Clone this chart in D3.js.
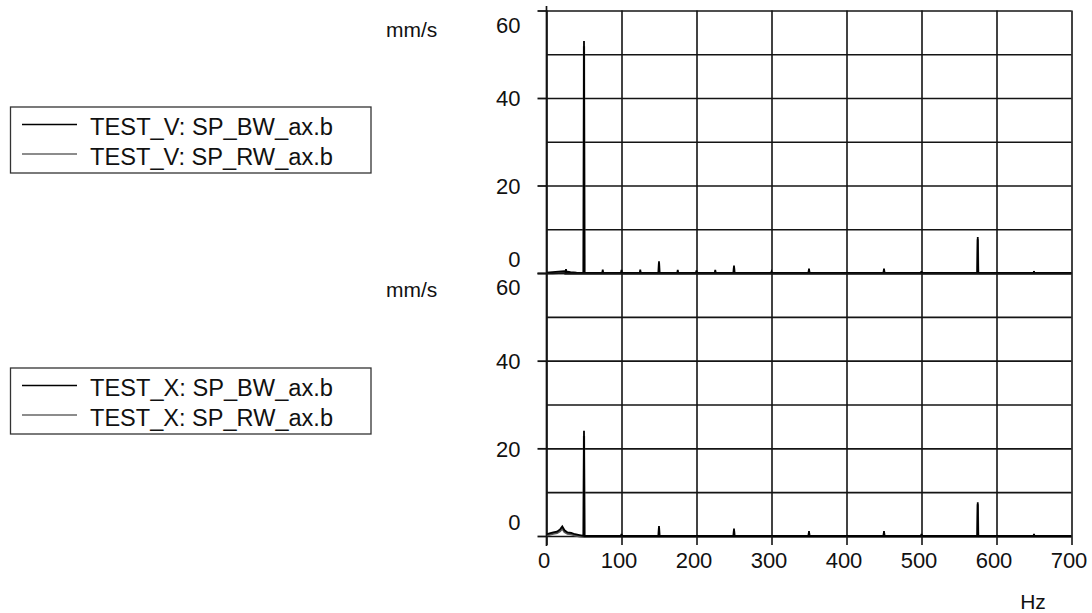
<!DOCTYPE html>
<html>
<head>
<meta charset="utf-8">
<title>Spectrum</title>
<script src="https://cdn.jsdelivr.net/npm/d3@7"></script>
<style>
  body { margin: 0; background: #fff; }
  svg text { font-family: "Liberation Sans", Arial, sans-serif; fill: #111; }
</style>
</head>
<body>
<div id="chart"></div>
<script>
// ---- data ----
var hzTicks = [0, 100, 200, 300, 400, 500, 600, 700];
var ampTicks = [0, 20, 40, 60];
var unitY = "mm/s";
var unitX = "Hz";

// TEST_V panel: low band (continuous) + spike frequencies (Hz) and amplitudes (mm/s)
var vLowHz = [0, 8, 16, 24, 32, 40];
var vLowBW = [0.1, 0.2, 0.3, 0.4, 0.2, 0.1];
var vLowRW = [0.1, 0.1, 0.2, 0.3, 0.1, 0.0];
var vHz    = [26, 50, 75, 100, 125, 150, 175, 200, 225, 250, 300, 350, 450, 500, 575, 650];
var vBW    = [0.9, 53, 0.8, 0.7, 0.8, 2.7, 0.7, 0.6, 0.7, 1.7, 0.3, 1.0, 1.0, 0.4, 8.2, 0.4];
var vRW    = [0.6, 52, 0.5, 0.5, 0.5, 2.4, 0.4, 0.4, 0.4, 1.5, 0.2, 0.8, 0.8, 0.3, 7.9, 0.2];

// TEST_X panel
var xLowHz = [0, 4, 9, 14, 18, 21, 24, 28, 33, 38, 44];
var xLowBW = [0.4, 0.6, 0.8, 1.0, 1.5, 2.2, 1.3, 0.8, 0.7, 0.4, 0.2];
var xLowRW = [0.3, 0.5, 0.7, 0.9, 1.3, 1.9, 1.1, 0.7, 0.6, 0.3, 0.1];
var xHz    = [50, 100, 150, 250, 350, 450, 500, 575, 650];
var xBW    = [24, 0.5, 2.3, 1.7, 1.1, 1.1, 0.5, 7.7, 0.5];
var xRW    = [23, 0.4, 2.0, 1.5, 0.9, 0.9, 0.4, 7.4, 0.4];

var legendV = ["TEST_V: SP_BW_ax.b", "TEST_V: SP_RW_ax.b"];
var legendX = ["TEST_X: SP_BW_ax.b", "TEST_X: SP_RW_ax.b"];

// ---- layout ----
var W = 1092, H = 613;
var svg = d3.select("#chart").append("svg").attr("width", W).attr("height", H);

var x = d3.scaleLinear().domain([0, 700]).range([546.5, 1071.5]);

var panels = [
  {top: 10.5, bottom: 273, lowHz: vLowHz, lowBW: vLowBW, lowRW: vLowRW,
   hz: vHz, bw: vBW, rw: vRW, legend: legendV, box: [107, 173], unitY: 37},
  {top: 273, bottom: 536, lowHz: xLowHz, lowBW: xLowBW, lowRW: xLowRW,
   hz: xHz, bw: xBW, rw: xRW, legend: legendX, box: [368, 434], unitY: 297}
];

function spectrum(lowHz, low, hz, amp) {
  var pts = lowHz.map(function(f, i) { return [f, low[i]]; });
  hz.forEach(function(f, i) {
    pts.push([f - 0.6, 0], [f, amp[i]], [f + 0.6, 0]);
  });
  pts.push([700, 0]);
  return pts;
}

var ink = "#141414";

panels.forEach(function(p, pi) {
  var y = d3.scaleLinear().domain([0, 60]).range([p.bottom, p.top]);
  var g = svg.append("g");

  // horizontal grid every 10
  g.append("g")
    .attr("transform", "translate(" + x(0) + ",0)")
    .call(d3.axisLeft(y).tickValues(d3.range(0, 61, 10)).tickSize(-(x(700) - x(0))).tickFormat(""))
    .call(function(s) {
      s.select(".domain").remove();
      s.selectAll("line").attr("stroke", ink).attr("stroke-width", 1.6);
    });

  // vertical grid every 100
  g.append("g")
    .attr("transform", "translate(0," + p.bottom + ")")
    .call(d3.axisBottom(x).tickValues(hzTicks).tickSize(-(p.bottom - p.top)).tickFormat(""))
    .call(function(s) {
      s.select(".domain").remove();
      s.selectAll("line").attr("stroke", ink).attr("stroke-width", 1.6);
    });

  // left axis ticks and labels
  g.append("g")
    .attr("transform", "translate(" + x(0) + ",0)")
    .call(d3.axisLeft(y).tickValues(ampTicks).tickSize(9).tickPadding(17))
    .call(function(s) {
      s.select(".domain").remove();
      s.selectAll("line").attr("stroke", ink).attr("stroke-width", 1.8);
      s.selectAll("text").attr("font-size", 22).attr("fill", ink)
        .attr("font-family", "Liberation Sans, Arial, sans-serif")
        .attr("dy", function(d) {
          if (d === 60) return "0.98em";
          if (d === 0) return "-0.3em";
          return "0.36em";
        });
    });

  // unit label
  g.append("text").attr("x", 386).attr("y", p.unitY)
    .attr("font-size", 21).text(unitY);

  // series: RW (grey) under BW (black)
  var line = d3.line().x(function(d) { return x(d[0]); }).y(function(d) { return y(d[1]); });
  g.append("path").datum(spectrum(p.lowHz, p.lowRW, p.hz, p.rw))
    .attr("fill", "none").attr("stroke", "#555").attr("stroke-width", 2.2)
    .attr("transform", "translate(0,0.8)").attr("d", line);
  g.append("path").datum(spectrum(p.lowHz, p.lowBW, p.hz, p.bw))
    .attr("fill", "none").attr("stroke", "#000").attr("stroke-width", 1.8).attr("d", line);

  // legend
  var lg = svg.append("g");
  lg.append("rect").attr("x", 10.5).attr("y", p.box[0])
    .attr("width", 360.5).attr("height", p.box[1] - p.box[0])
    .attr("fill", "none").attr("stroke", "#333").attr("stroke-width", 1.3);
  p.legend.forEach(function(t, i) {
    var yy = p.box[0] + 17.5 + i * 29.5;
    lg.append("line").attr("x1", 22).attr("x2", 77).attr("y1", yy).attr("y2", yy)
      .attr("stroke", i === 0 ? "#000" : "#666").attr("stroke-width", i === 0 ? 1.5 : 1.3);
    lg.append("text").attr("x", 90).attr("y", yy + 10.5)
      .attr("font-size", 23).attr("textLength", 243).attr("lengthAdjust", "spacingAndGlyphs")
      .text(t);
  });

  // x axis labels under the last panel
  if (pi === 1) {
    g.append("g")
      .attr("transform", "translate(0," + p.bottom + ")")
      .call(d3.axisBottom(x).tickValues(hzTicks).tickSize(9).tickPadding(7))
      .call(function(s) {
        s.select(".domain").remove();
        s.selectAll("line").attr("stroke", ink).attr("stroke-width", 1.6);
        s.selectAll("text").attr("font-size", 22).attr("fill", ink).attr("dx", "-3")
          .attr("font-family", "Liberation Sans, Arial, sans-serif");
      });
    g.append("text").attr("x", 1033).attr("y", 609)
      .attr("text-anchor", "middle").attr("font-size", 21).text(unitX);
  }
});

// left axis line, running a little past both ends
svg.append("line").attr("x1", x(0)).attr("x2", x(0)).attr("y1", 6).attr("y2", 546)
  .attr("stroke", ink).attr("stroke-width", 1.7);
</script>
</body>
</html>
